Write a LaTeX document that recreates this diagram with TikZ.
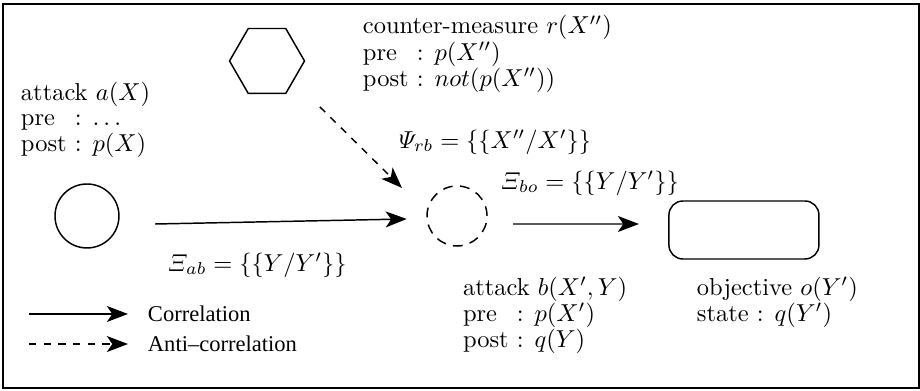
\documentclass[tikz,border=0pt]{standalone}
\usepackage{amsmath}
\usepackage{amssymb}
\usepackage{fontspec}
\usepackage{tikz}
\usetikzlibrary{shapes.geometric,arrows.meta}
\newfontfamily\legfont{Liberation Serif}
\renewcommand\arraystretch{0.87}

\begin{document}
\begin{tikzpicture}[
    every node/.style={inner sep=0pt, outer sep=0pt},
    txt/.style={anchor=base west},
    leg/.style={anchor=base west, font=\legfont\fontsize{9.2}{11}\selectfont},
    corr/.style={-{Stealth[length=8.6pt,width=6.5pt,inset=2.2pt]}, line width=0.6pt},
    anticorr/.style={corr, dashed},
    shp/.style={draw, line width=0.6pt}
  ]
        \useasboundingbox (0,0) rectangle (13.2,5.61);
        \draw[line width=0.6pt] (0.043,0.043) rectangle (13.185,5.552);

        \coordinate (A) at (1.248,2.511);
        \coordinate (B) at (6.557,2.511);
        \coordinate (R) at (3.831,4.735);
        \coordinate (O) at (10.674,2.310);

        \coordinate (Atxt) at (0.301,4.175);
        \coordinate (Rtxt) at (5.208,5.122);
        \coordinate (Btxt) at (6.643,1.377);
        \coordinate (Otxt) at (10.0,1.377);

        \coordinate (Psirb) at (5.725,3.486);
        \coordinate (Xibo) at (7.188,2.898);
        \coordinate (Xiab) at (2.410,1.721);

        \coordinate (L1s) at (0.416,1.105);
        \coordinate (L1e) at (1.836,1.105);
        \coordinate (L2s) at (0.416,0.674);
        \coordinate (L2e) at (1.836,0.674);

        \node[shp, circle, minimum size=0.918cm] (a) at (A) {};
        \node[shp, circle, dash pattern=on 4pt off 3pt, minimum size=0.861cm] (b) at (B) {};
        \node[shp, regular polygon, regular polygon sides=6, minimum size=1.076cm] (r) at (R) {};
        \node[shp, rounded corners=0.2cm, minimum width=2.152cm, minimum height=0.832cm] (o) at (O) {};

        \node[txt] (atxt) at (Atxt) {\begin{tabular}[t]{@{}l@{\ }l@{}}
            \multicolumn{2}{@{}l@{}}{attack $a(X)$}\\
            pre & : $\ldots$\\
            post & : $p(X)$
          \end{tabular}};
        \node[txt] (rtxt) at (Rtxt) {\begin{tabular}[t]{@{}l@{\ }l@{}}
            \multicolumn{2}{@{}l@{}}{counter-measure $r(X'')$}\\
            pre & : $p(X'')$\\
            post & : $not(p(X''))$
          \end{tabular}};
        \node[txt] (btxt) at (Btxt) {\begin{tabular}[t]{@{}l@{\ }l@{}}
            \multicolumn{2}{@{}l@{}}{attack $b(X',Y)$}\\
            pre & : $p(X')$\\
            post & : $q(Y)$
          \end{tabular}};
        \node[txt] (otxt) at (Otxt) {\begin{tabular}[t]{@{}l@{\ }l@{}}
            \multicolumn{2}{@{}l@{}}{objective $o(Y')$}\\
            state & : $q(Y')$
          \end{tabular}};

        \node[txt] (psirb) at (Psirb) {$\varPsi_{rb}=\{\{X''/X'\}\}$};
        \node[txt] (xibo) at (Xibo) {$\varXi_{bo}=\{\{Y/Y'\}\}$};
        \node[txt] (xiab) at (Xiab) {$\varXi_{ab}=\{\{Y/Y'\}\}$};

        \draw[corr] ([shift={(0.52,-0.115)}]a.east) -- ([shift={(-0.29,-0.043)}]b.west);
        \draw[corr] ([shift={(0.373,-0.115)}]b.east) -- ([shift={(-0.43,0.086)}]o.west);
        \draw[anticorr] ([shift={(0.760,-0.660)}]r.center) -- ([shift={(-0.789,0.402)}]b.center);

        \node[leg] (lcorr) at (2.123,0.990) {Correlation};
        \node[leg] (lanti) at (2.123,0.560) {Anti–correlation};
        \draw[corr] (L1s) -- (L1e);
        \draw[anticorr] (L2s) -- (L2e);
      \end{tikzpicture}
\end{document}
